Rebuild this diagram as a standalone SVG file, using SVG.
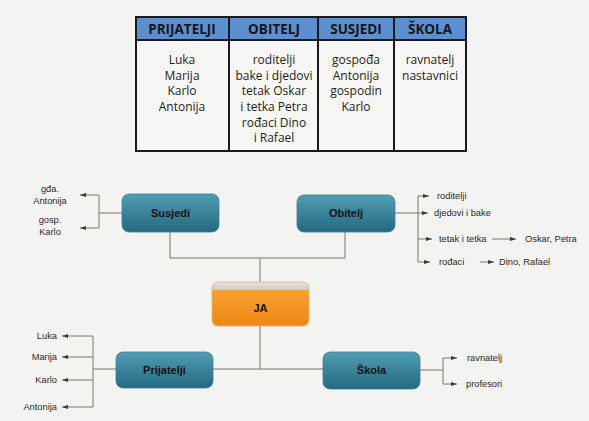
<svg xmlns="http://www.w3.org/2000/svg" width="589" height="421" viewBox="0 0 589 421">
<defs>
<style>
.th{font-family:"Open Sans","Liberation Sans",sans-serif;font-weight:bold;font-size:13.5px;fill:#161616;text-anchor:middle}
.td{font-family:"Open Sans","Liberation Sans",sans-serif;font-size:12px;fill:#1e1e1e;text-anchor:middle}
.nl{font-family:"Liberation Sans",Arial,sans-serif;font-weight:bold;font-size:11px;fill:#111;text-anchor:middle}
.lb{font-family:"Liberation Sans",Arial,sans-serif;font-size:9.3px;fill:#2a2a2a}
.cn{fill:none;stroke:#7d7764;stroke-width:1}
.ar{fill:none;stroke:#7d7764;stroke-width:1;marker-end:url(#ah)}
.node{stroke:#3d7f93;stroke-width:0.8}
</style>
<linearGradient id="teal" x1="0" y1="0" x2="0" y2="1">
<stop offset="0" stop-color="#4f9db4"/>
<stop offset="1" stop-color="#25697f"/>
</linearGradient>
<linearGradient id="orng" x1="0" y1="0" x2="0" y2="1">
<stop offset="0" stop-color="#f9a63a"/>
<stop offset="1" stop-color="#ef8712"/>
</linearGradient>
<linearGradient id="gray" x1="0" y1="0" x2="0" y2="1">
<stop offset="0" stop-color="#e6e6e4"/>
<stop offset="1" stop-color="#c9c9c6"/>
</linearGradient>
<marker id="ah" viewBox="0 0 6 4" refX="6" refY="2" markerWidth="6" markerHeight="4" markerUnits="userSpaceOnUse" orient="auto">
<path d="M0,0 L6,2 L0,4 Z" fill="#3a3a30"/>
</marker>
<clipPath id="jaclip"><rect x="212" y="282" width="97" height="44" rx="6"/></clipPath>
</defs>
<rect width="589" height="421" fill="#f3f3f1"/>

<g id="table">
<rect x="136" y="17" width="330" height="23" fill="#5b8fd0"/>
<rect x="136" y="40" width="330" height="111" fill="#f6f6f4"/>
<rect x="136" y="17" width="330" height="134" fill="none" stroke="#1a1a1a" stroke-width="2"/>
<line x1="136" y1="40" x2="466" y2="40" stroke="#1a1a1a" stroke-width="2"/>
<line x1="229" y1="17" x2="229" y2="151" stroke="#1a1a1a" stroke-width="2"/>
<line x1="318" y1="17" x2="318" y2="151" stroke="#1a1a1a" stroke-width="2"/>
<line x1="394" y1="17" x2="394" y2="151" stroke="#1a1a1a" stroke-width="2"/>
<text class="th" x="182" y="34">PRIJATELJI</text>
<text class="th" x="274" y="34">OBITELJ</text>
<text class="th" x="356" y="34">SUSJEDI</text>
<text class="th" x="430" y="34">ŠKOLA</text>
<text class="td" x="182" y="64">Luka</text>
<text class="td" x="182" y="79.5">Marija</text>
<text class="td" x="182" y="95">Karlo</text>
<text class="td" x="182" y="111">Antonija</text>
<text class="td" x="274" y="64">roditelji</text>
<text class="td" x="274" y="79.5">bake i djedovi</text>
<text class="td" x="274" y="95">tetak Oskar</text>
<text class="td" x="274" y="111">i tetka Petra</text>
<text class="td" x="274" y="126.5">rođaci Dino</text>
<text class="td" x="274" y="142">i Rafael</text>
<text class="td" x="356" y="64">gospođa</text>
<text class="td" x="356" y="79.5">Antonija</text>
<text class="td" x="356" y="95">gospodin</text>
<text class="td" x="356" y="111">Karlo</text>
<text class="td" x="430" y="64">ravnatelj</text>
<text class="td" x="430" y="79.5">nastavnici</text>
</g>

<g id="connectors">
<!-- JA hub -->
<polyline class="cn" points="170,232 170,258 345,258 345,232"/>
<line class="cn" x1="260" y1="258" x2="260" y2="282"/>
<line class="cn" x1="260" y1="326" x2="260" y2="369"/>
<line class="cn" x1="213" y1="369" x2="323" y2="369"/>
<!-- Susjedi branches -->
<line class="cn" x1="122" y1="213" x2="99" y2="213" stroke="#b3a466"/>
<line class="cn" x1="99" y1="195" x2="99" y2="228"/>
<line class="ar" x1="99" y1="195" x2="80" y2="195"/>
<line class="ar" x1="99" y1="228" x2="80" y2="228"/>
<!-- Obitelj branches -->
<line class="cn" x1="395" y1="213" x2="418" y2="213"/>
<line class="cn" x1="418" y1="196" x2="418" y2="262"/>
<line class="ar" x1="418" y1="196" x2="429" y2="196"/>
<line class="ar" x1="418" y1="213" x2="428" y2="213"/>
<line class="ar" x1="418" y1="239" x2="432" y2="239"/>
<line class="ar" x1="418" y1="262" x2="430" y2="262"/>
<line class="ar" x1="492" y1="239" x2="516" y2="239"/>
<line class="ar" x1="480" y1="262" x2="494" y2="262"/>
<!-- Prijatelji branches -->
<line class="cn" x1="116" y1="369" x2="93" y2="369"/>
<line class="cn" x1="93" y1="336" x2="93" y2="407"/>
<line class="ar" x1="93" y1="336" x2="62" y2="336"/>
<line class="ar" x1="93" y1="357" x2="62" y2="357"/>
<line class="ar" x1="93" y1="380" x2="62" y2="380"/>
<line class="ar" x1="93" y1="407" x2="62" y2="407"/>
<!-- Skola branches -->
<line class="cn" x1="420" y1="370" x2="443" y2="370"/>
<line class="cn" x1="443" y1="358" x2="443" y2="384"/>
<line class="ar" x1="443" y1="358" x2="457" y2="358"/>
<line class="ar" x1="443" y1="384" x2="457" y2="384"/>
</g>

<g id="labels">
<text class="lb" x="50" y="192" text-anchor="middle">gđa.</text>
<text class="lb" x="50" y="204" text-anchor="middle">Antonija</text>
<text class="lb" x="50" y="223" text-anchor="middle">gosp.</text>
<text class="lb" x="50" y="235" text-anchor="middle">Karlo</text>
<text class="lb" x="437" y="199">roditelji</text>
<text class="lb" x="434" y="216">djedovi i bake</text>
<text class="lb" x="439" y="242">tetak i tetka</text>
<text class="lb" x="525" y="242">Oskar, Petra</text>
<text class="lb" x="439" y="265">rođaci</text>
<text class="lb" x="499" y="265">Dino, Rafael</text>
<text class="lb" x="57" y="339" text-anchor="end">Luka</text>
<text class="lb" x="57" y="360" text-anchor="end">Marija</text>
<text class="lb" x="57" y="383" text-anchor="end">Karlo</text>
<text class="lb" x="57" y="410" text-anchor="end">Antonija</text>
<text class="lb" x="467" y="361">ravnatelj</text>
<text class="lb" x="466" y="387">profesori</text>
</g>

<g id="susjedi">
<rect class="node" x="122" y="194" width="97" height="38" rx="7" fill="url(#teal)"/>
<text class="nl" x="170.5" y="217">Susjedi</text>
</g>
<g id="obitelj">
<rect class="node" x="297" y="195" width="98" height="37" rx="7" fill="url(#teal)"/>
<text class="nl" x="346" y="217">Obitelj</text>
</g>
<g id="ja">
<g clip-path="url(#jaclip)">
<rect x="212" y="282" width="97" height="44" fill="url(#orng)"/>
<rect x="212" y="282" width="97" height="8" fill="url(#gray)"/>
</g>
<rect x="212" y="282" width="97" height="44" rx="6" fill="none" stroke="#e9b36a" stroke-width="0.8"/>
<text class="nl" x="260.5" y="312">JA</text>
</g>
<g id="prijatelji">
<rect class="node" x="116" y="352" width="97" height="36" rx="7" fill="url(#teal)"/>
<text class="nl" x="164.5" y="374">Prijatelji</text>
</g>
<g id="skola">
<rect class="node" x="323" y="352" width="97" height="37" rx="7" fill="url(#teal)"/>
<text class="nl" x="371.5" y="374">Škola</text>
</g>
</svg>
